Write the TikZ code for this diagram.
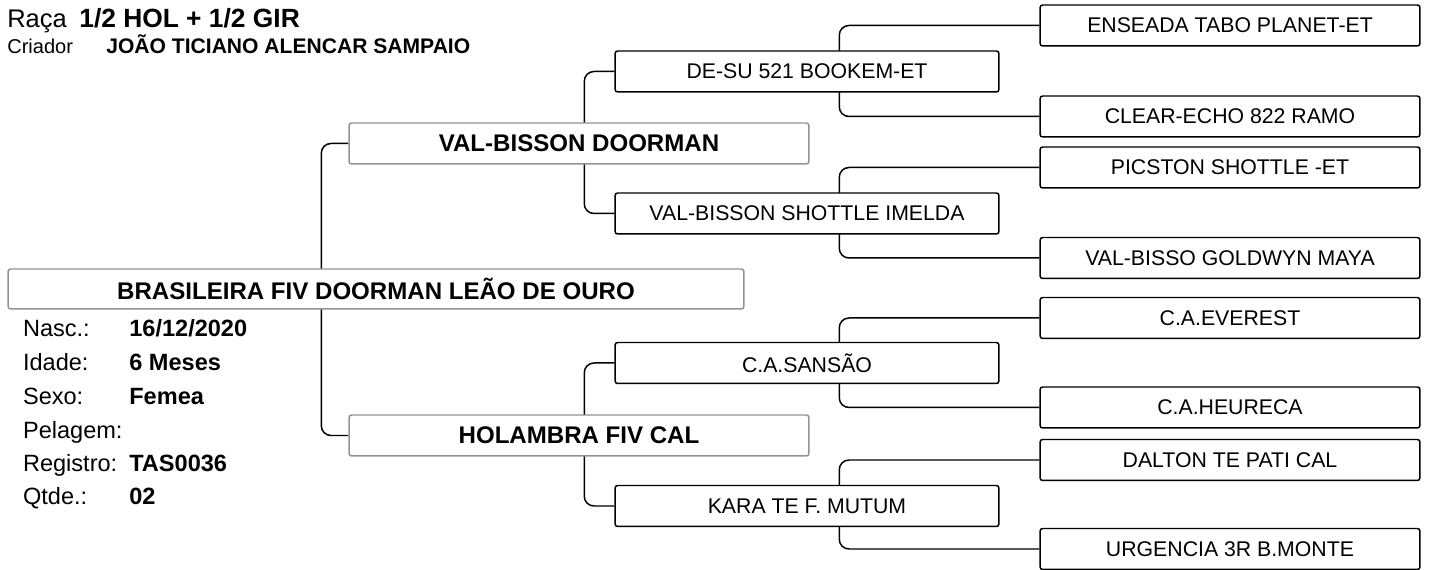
\documentclass[tikz,border=0pt]{standalone}
\usepackage{fontspec}
\setmainfont{Liberation Sans}
\usetikzlibrary{backgrounds}

\begin{document}
\begin{tikzpicture}[x=0.02cm, y=-0.02cm,
  box/.style={shape=rectangle, rounded corners=1.5pt, draw=black, line width=0.85pt, fill=white,
    minimum width=7.68cm, minimum height=0.82cm, inner sep=0pt, font=\fontsize{12.1}{14}\selectfont},
  greybox/.style={box, draw=gray!85, minimum width=9.2cm, font=\bfseries\fontsize{13.7}{16}\selectfont},
  ggbox/.style={box, minimum width=7.6cm},
  link/.style={draw, line width=0.85pt, rounded corners=5.5pt},
  info/.style={anchor=base west, inner sep=0pt, font=\fontsize{13.4}{16}\selectfont},
  infoval/.style={info, font=\bfseries\fontsize{13.4}{16}\selectfont}]
\useasboundingbox (0,0) rectangle (1431,570);

% header
\node (raca) at (7,27.7) [info, font=\fontsize{14.5}{16}\selectfont] {Raça};
\node (racav) at (79,27.7) [infoval, font=\bfseries\fontsize{15}{17}\selectfont] {1/2 HOL + 1/2 GIR};
\node (criador) at (7,54) [info, font=\fontsize{11.4}{13}\selectfont] {Criador};
\node (criadorv) at (106,54) [infoval, font=\bfseries\fontsize{12}{14}\selectfont] {JOÃO TICIANO ALENCAR SAMPAIO};

% pedigree
\node (1) at (376,289) [greybox, minimum width=14.72cm, minimum height=0.8cm] {BRASILEIRA FIV DOORMAN LEÃO DE OURO};
\node (2) at (579,143.5) [greybox] {VAL-BISSON DOORMAN};
\node (3) at (579,435.5) [greybox] {HOLAMBRA FIV CAL};
\node (4) at (807,71.5) [box] {DE-SU 521 BOOKEM-ET};
\node (5) at (807,213.5) [box] {VAL-BISSON SHOTTLE IMELDA};
\node (6) at (807,363) [box] {C.A.SANSÃO};
\node (7) at (807,506) [box] {KARA TE F. MUTUM};
\node (8) at (1230,25.5) [ggbox] {ENSEADA TABO PLANET-ET};
\node (9) at (1230,116.5) [ggbox] {CLEAR-ECHO 822 RAMO};
\node (10) at (1230,167.5) [ggbox] {PICSTON SHOTTLE -ET};
\node (11) at (1230,258) [ggbox] {VAL-BISSO GOLDWYN MAYA};
\node (12) at (1230,318) [ggbox] {C.A.EVEREST};
\node (13) at (1230,407.5) [ggbox] {C.A.HEURECA};
\node (14) at (1230,460) [ggbox] {DALTON TE PATI CAL};
\node (15) at (1230,549) [ggbox] {URGENCIA 3R B.MONTE};

\begin{pgfonlayer}{background}
\draw [link] (2.west) -- ++(-27,0) |- (3.west);
\draw [link] (4.west) -- ++(-30,0) |- (5.west);
\draw [link] (6.west) -- ++(-30,0) |- (7.west);
\draw [link] (8.west) -- ++(-200,0) |- (9.west);
\draw [link] (10.west) -- ++(-200,0) |- (11.west);
\draw [link] (12.west) -- ++(-200,0) |- (13.west);
\draw [link] (14.west) -- ++(-200,0) |- (15.west);
\end{pgfonlayer}

% dados
\node (nasc) at (22.7,337) [info] {Nasc.:};
\node (idade) at (22.7,371) [info] {Idade:};
\node (sexo) at (22.7,405) [info] {Sexo:};
\node (pelagem) at (22.7,438.5) [info] {Pelagem:};
\node (registro) at (22.7,472) [info] {Registro:};
\node (qtde) at (22.7,505) [info] {Qtde.:};
\node (nascv) at (129,337) [infoval] {16/12/2020};
\node (idadev) at (129,371) [infoval] {6 Meses};
\node (sexov) at (129,405) [infoval] {Femea};
\node (registrov) at (129,472) [infoval] {TAS0036};
\node (qtdev) at (129,505) [infoval] {02};

\end{tikzpicture}
\end{document}
